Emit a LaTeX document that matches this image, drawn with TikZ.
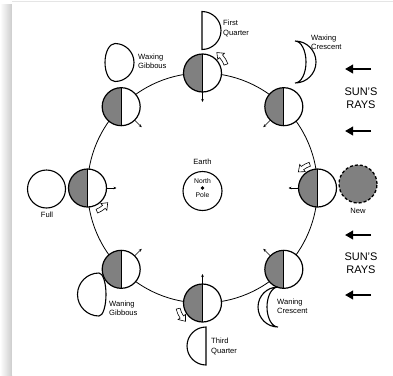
\documentclass[tikz,border=0pt]{standalone}
\usepackage{fontspec}
\setmainfont{Liberation Sans}
\usetikzlibrary{arrows.meta,calc}

\definecolor{darkside}{gray}{0.50}
\definecolor{cardshadow}{gray}{0.80}
\definecolor{cardedge}{gray}{0.90}

% moon on the orbit: lit half towards the sun, small marker facing Earth
\newcommand\orbitmoon[1]{%
  \fill[white] (#1) circle (19);
  \fill[darkside] ($(#1)+(0,19)$) arc[start angle=90,end angle=270,radius=19] -- cycle;
  \draw[moonline] (#1) circle (19);
  \draw[moonline] ($(#1)+(0,19)$) -- ($(#1)+(0,-19)$);
  \draw[facing] ($(#1)!19pt!(O)$) -- ($(#1)!29pt!(O)$);
}

% hollow curved arrow turning counter-clockwise round a moon
\newcommand\spinarrow[3]{%
  \pgfmathsetmacro\headbase{#3-13}%
  \begin{scope}[shift={(#1)}]
    \filldraw[fill=white,line width=0.6pt]
      (#2:23) arc[start angle=#2,end angle=\headbase,radius=23]
      -- (\headbase:20.5) -- (#3:25) -- (\headbase:29.5) -- (\headbase:27)
      arc[start angle=\headbase,end angle=#2,radius=27] -- cycle;
  \end{scope}}

\begin{document}
\begin{tikzpicture}[x=1pt,y=1pt,
  lbl/.style={font=\fontsize{7.6}{9.2}\selectfont,align=left,inner sep=0pt},
  rays/.style={font=\fontsize{11}{12.5}\selectfont,align=center,inner sep=0pt},
  moonline/.style={line width=1.2pt},
  phase/.style={line width=1.1pt,fill=white},
  facing/.style={line width=0.6pt,-{Stealth[length=3pt,width=2.6pt]}},
  sunray/.style={line width=2.6pt,-{Triangle[length=8pt,width=8.5pt]}}]
\useasboundingbox (0,0) rectangle (393,-375);

% card with its shadow
\shade[left color=white,right color=cardshadow] (0,-4) rectangle (12,-375);
\fill[white] (12,-1) rectangle (393,-375);
\draw[cardedge,line width=1pt] (12,-1.5) -- (393,-1.5);

% orbit
\coordinate (O) at (202.5,-188);
\draw[line width=0.8pt] (O) circle (115);
\foreach \a in {0,45,...,315} \coordinate (m\a) at ($(O)+(\a:115)$);

% Earth
\node[circle,draw,line width=1.1pt,minimum size=39pt,inner sep=0pt] (earth) at (202.5,-191) {};
\node[lbl] (earthlbl) at (202.5,-162) {Earth};
\node[lbl,font=\fontsize{6.8}{8}\selectfont] (north) at (202.5,-181) {North};
\node[lbl,font=\fontsize{6.8}{8}\selectfont] (pole) at (202.5,-195) {Pole};
\fill (202.5,-188) circle (1.9);

% moons along the orbit
\foreach \a in {0,45,...,315} {\orbitmoon{m\a}}

% rotation of the moon
\spinarrow{m90}{20}{55}
\spinarrow{m0}{108}{140}
\spinarrow{m180}{-68}{-36}
\spinarrow{m270}{193}{227}

% phases as seen from Earth
\filldraw[phase] (46.5,-189) circle (19);
\node[lbl] (full) at (47,-215) {Full};

\filldraw[phase] (202,-11.5) arc[start angle=90,end angle=-90,radius=19] -- cycle;
\node[lbl,anchor=west] (firstq) at (223,-28.5) {First\\Quarter};

\filldraw[phase] (115,-43.5) arc[start angle=90,end angle=-90,radius=19]
  arc[start angle=270,end angle=90,x radius=10,y radius=19] -- cycle;
\node[lbl,anchor=west] (waxgib) at (138,-61.5) {Waxing\\Gibbous};

\filldraw[phase] (295,-41) arc[start angle=90,end angle=-90,radius=21]
  arc[start angle=-90,end angle=90,x radius=11,y radius=21] -- cycle;
\node[lbl,anchor=west] (waxcres) at (311,-42) {Waxing\\Crescent};

\filldraw[darkside,draw=black,line width=1.3pt,dash pattern=on 3pt off 2pt] (358,-184) circle (19);
\node[lbl] (new) at (358,-211) {New};

\filldraw[phase] (99,-273) arc[start angle=90,end angle=270,radius=21.5]
  arc[start angle=-90,end angle=90,x radius=7,y radius=21.5] -- cycle;
\node[lbl,anchor=west] (wangib) at (109,-308.5) {Waning\\Gibbous};

\filldraw[phase] (206,-327) arc[start angle=90,end angle=270,radius=19] -- cycle;
\node[lbl,anchor=west] (thirdq) at (211,-346.5) {Third\\Quarter};

\filldraw[phase] (278,-287) arc[start angle=90,end angle=270,radius=20]
  arc[start angle=270,end angle=90,x radius=11,y radius=20] -- cycle;
\node[lbl,anchor=west] (wancres) at (277,-306.5) {Waning\\Crescent};

% sunlight
\foreach \i/\y in {1/69,2/131,3/235,4/295} {
  \coordinate (r\i a) at (371,-\y);
  \coordinate (r\i b) at (345,-\y);
  \draw[sunray] (r\i a) -- (r\i b);
}
\node[rays] (sun1) at (361,-98) {SUN'S\\RAYS};
\node[rays] (sun2) at (361,-263) {SUN'S\\RAYS};
\end{tikzpicture}
\end{document}
